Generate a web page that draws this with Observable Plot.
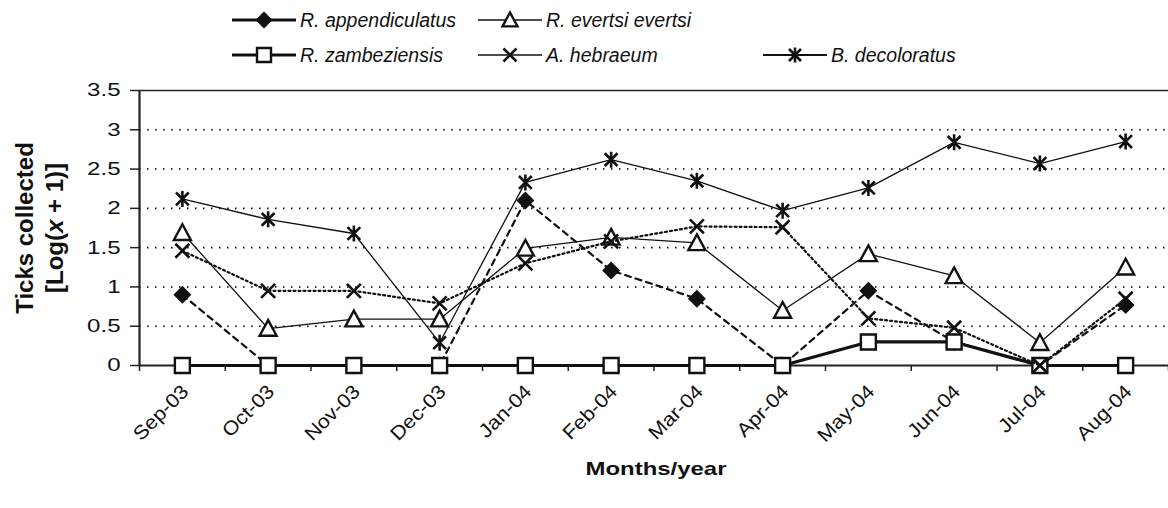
<!DOCTYPE html>
<html>
<head>
<meta charset="utf-8">
<script src="https://cdn.jsdelivr.net/npm/d3@7"></script>
<script src="https://cdn.jsdelivr.net/npm/@observablehq/plot@0.6"></script>
<style>
  html, body { margin: 0; padding: 0; background: #fff; }
  #wrap { position: relative; width: 1168px; height: 508px; font-family: "Liberation Sans", Arial, sans-serif; }
  #overlay { position: absolute; left: 0; top: 0; pointer-events: none; }
</style>
</head>
<body>
<div id="wrap"></div>
<script>
// ---- data ----
const months = ["Sep-03","Oct-03","Nov-03","Dec-03","Jan-04","Feb-04","Mar-04","Apr-04","May-04","Jun-04","Jul-04","Aug-04"];
const seriesNames = ["R. appendiculatus","R. zambeziensis","R. evertsi evertsi","A. hebraeum","B. decoloratus"];
const appendiculatus = [0.90,0,0,0,2.10,1.21,0.85,0,0.95,0.30,0,0.77];
const zambeziensis   = [0,0,0,0,0,0,0,0,0.30,0.30,0,0];
const evertsi        = [1.69,0.47,0.59,0.59,1.49,1.63,1.56,0.70,1.42,1.14,0.29,1.25];
const hebraeum       = [1.46,0.95,0.95,0.79,1.30,1.58,1.77,1.76,0.60,0.48,0,0.85];
const decoloratus    = [2.12,1.86,1.68,0.29,2.33,2.62,2.35,1.97,2.26,2.84,2.57,2.85];
const yTicks = [0,0.5,1,1.5,2,2.5,3,3.5];

const seriesValues = [appendiculatus, zambeziensis, evertsi, hebraeum, decoloratus];
const rows = seriesNames.map((name, s) => seriesValues[s].map((v, i) => ({series: name, i, v})));

// ---- custom symbols (r = half-size) ----
const rad = size => Math.sqrt(size / Math.PI);
const diamondSym = {draw(c, size){ const r = rad(size); c.moveTo(0,-r); c.lineTo(r,0); c.lineTo(0,r); c.lineTo(-r,0); c.closePath(); }};
const squareSym = {draw(c, size){ const r = rad(size); c.rect(-r,-r,2*r,2*r); }};
const triSym = {draw(c, size){ const r = rad(size); c.moveTo(0,-r); c.lineTo(r,r*0.85); c.lineTo(-r,r*0.85); c.closePath(); }};
const timesSym = {draw(c, size){ const r = rad(size); c.moveTo(-r,-r); c.lineTo(r,r); c.moveTo(-r,r); c.lineTo(r,-r); }};
const starSym = {draw(c, size){ const r = rad(size); const d = r*0.8; c.moveTo(0,-r); c.lineTo(0,r); c.moveTo(-d,-d); c.lineTo(d,d); c.moveTo(-d,d); c.lineTo(d,-d); }};

const styles = {
  "R. appendiculatus": {line:{strokeWidth:2.2, strokeDasharray:"6,5"}, dot:{symbol:diamondSym, r:9, fill:"#111", stroke:"none"}, legendLine:3.2, legendR:8.5},
  "R. zambeziensis":   {line:{strokeWidth:3.2}, dot:{symbol:squareSym, r:7.5, fill:"white", stroke:"#111", strokeWidth:2.4}, legendLine:3.2, legendR:7},
  "R. evertsi evertsi":{line:{strokeWidth:1.3}, dot:{symbol:triSym, r:8.5, fill:"white", stroke:"#111", strokeWidth:2.4}, legendLine:1.6, legendR:7.5},
  "A. hebraeum":       {line:{strokeWidth:2.2, strokeDasharray:"2,3"}, dot:{symbol:timesSym, r:7, fill:"none", stroke:"#111", strokeWidth:2.6}, legendLine:1.6, legendR:6.5},
  "B. decoloratus":    {line:{strokeWidth:1.3}, dot:{symbol:starSym, r:8, fill:"none", stroke:"#111", strokeWidth:2.6}, legendLine:2.2, legendR:7.5}
};

const marks = [
  Plot.gridY(yTicks.filter(d => d > 0 && d < 3.5), {stroke:"#111", strokeOpacity:1, strokeWidth:1.6, strokeDasharray:"1.6,6.4"}),
  Plot.ruleY([3.5], {stroke:"#222", strokeWidth:1.5}),
  Plot.axisY({ticks: yTicks, tickSize: 9, tickPadding: 10, fontSize: 18.5, label: null, tickFormat: d => String(d), stroke:"#222", strokeWidth:1.5}),
  Plot.axisX({ticks: d3.range(-0.5, 12, 1), tickSize: 6, tickFormat: () => "", label: null, stroke:"#222", strokeWidth:1.5}),
  Plot.axisX({ticks: d3.range(12), tickSize: 0, tickFormat: i => months[i], tickRotate: -45, textAnchor: "end", fontSize: 19.5, dx: 3, dy: 11, label: null}),
  Plot.ruleX([-0.5], {stroke:"#222", strokeWidth:2.2}),
  Plot.ruleY([0], {stroke:"#222", strokeWidth:2.2})
];
rows.forEach(data => {
  const st = styles[data[0].series];
  marks.push(Plot.line(data, {x:"i", y:"v", stroke:"#111", ...st.line}));
  marks.push(Plot.dot(data, {x:"i", y:"v", ...st.dot}));
});

const chart = Plot.plot({
  width: 1168,
  height: 508,
  marginLeft: 139,
  marginRight: 0,
  marginTop: 90,
  marginBottom: 143,
  style: {fontFamily: '"Liberation Sans", Arial, sans-serif', color: "#111", background: "white", overflow: "visible"},
  x: {type: "linear", domain: [-0.5, 11.5]},
  y: {domain: [0, 3.5]},
  marks
});
document.getElementById("wrap").appendChild(chart);

function stretch(nodes, factor) {
  nodes.forEach(n => {
    const w = n.getComputedTextLength();
    if (w > 0) { n.setAttribute("textLength", (w * factor).toFixed(2)); n.setAttribute("lengthAdjust", "spacingAndGlyphs"); }
  });
}
stretch(chart.querySelectorAll('g[aria-label="y-axis tick label"] text'), 1.3);
stretch(chart.querySelectorAll('g[aria-label="x-axis tick label"] text'), 1.1);

// ---- overlay: legend and axis titles ----
const ov = d3.select("#wrap").append("svg").attr("id","overlay").attr("width",1168).attr("height",508)
  .style("font-family", '"Liberation Sans", Arial, sans-serif');

const legendPos = {
  "R. appendiculatus": [232, 20],
  "R. evertsi evertsi": [478, 20],
  "R. zambeziensis": [232, 55],
  "A. hebraeum": [478, 55],
  "B. decoloratus": [763, 55]
};
seriesNames.forEach(name => {
  const [x0, y0] = legendPos[name];
  const st = styles[name];
  const g = ov.append("g").attr("transform", `translate(${x0},${y0})`);
  g.append("line").attr("x1",0).attr("x2",64).attr("y1",0).attr("y2",0).attr("stroke","#111").attr("stroke-width",st.legendLine);
  const p = d3.path();
  st.dot.symbol.draw(p, Math.PI * st.legendR * st.legendR);
  g.append("path").attr("d", p.toString()).attr("transform","translate(32,0)")
    .attr("fill", st.dot.fill).attr("stroke", st.dot.stroke === "none" ? null : st.dot.stroke)
    .attr("stroke-width", st.dot.strokeWidth || null);
  g.append("text").attr("x", 68).attr("y", 7).attr("font-size", 19.5).attr("font-style","italic").attr("fill","#111").text(name);
});

ov.append("text").attr("transform","translate(33,228) rotate(-90)").attr("text-anchor","middle")
  .attr("font-size",24).attr("font-weight","bold").attr("fill","#111").text("Ticks collected");
const t2 = ov.append("text").attr("transform","translate(63,228) rotate(-90)").attr("text-anchor","middle")
  .attr("font-size",24).attr("font-weight","bold").attr("fill","#111");
t2.append("tspan").text("[Log(");
t2.append("tspan").attr("font-style","italic").text("x");
t2.append("tspan").text(" + 1)]");

const mt = ov.append("text").attr("x",656).attr("y",475).attr("text-anchor","middle").attr("font-size",19)
  .attr("font-weight","bold").attr("fill","#111").text("Months/year");
mt.attr("textLength", 141).attr("lengthAdjust","spacingAndGlyphs");
</script>
</body>
</html>
